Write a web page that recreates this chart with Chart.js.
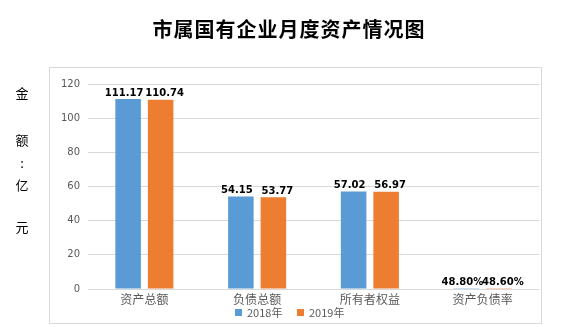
<!DOCTYPE html>
<html>
<head>
<meta charset="utf-8">
<script src="https://cdn.jsdelivr.net/npm/chart.js@4/dist/chart.umd.min.js"></script>
<style>
  html, body { margin: 0; padding: 0; background: #fff; }
  #wrap { width: 578px; height: 327px; }
</style>
</head>
<body>
<div id="wrap"><canvas id="c" width="578" height="327"></canvas></div>
<script>
// Data
const chartTitle = '市属国有企业月度资产情况图';
const yAxisTitle = '金额:亿元';
const categories = ['资产总额', '负债总额', '所有者权益', '资产负债率'];
const seriesNames = ['2018年', '2019年'];
const values2018 = [111.17, 54.15, 57.02, 0.488];
const values2019 = [110.74, 53.77, 56.97, 0.486];
const percentCategories = ['资产负债率'];
const yMin = 0, yMax = 120, yStep = 20;

const colors = ['#5b9bd5', '#ed7d31'];
const cjk = '"Noto Sans CJK SC", "Noto Sans", sans-serif';

function formatValue(v, idx) {
  if (percentCategories.includes(categories[idx])) return (v * 100).toFixed(2) + '%';
  return v.toFixed(2);
}

// Frame, title and vertical axis caption
const decorPlugin = {
  id: 'decor',
  beforeDraw(chart) {
    const ctx = chart.ctx;
    ctx.save();
    ctx.fillStyle = '#fff';
    ctx.fillRect(0, 0, chart.width, chart.height);
    ctx.strokeStyle = '#d9d9d9';
    ctx.lineWidth = 1;
    ctx.strokeRect(49.5, 67.5, 492, 256);

    ctx.fillStyle = '#000';
    ctx.font = 'bold 20px ' + cjk;
    ctx.textAlign = 'center';
    ctx.textBaseline = 'middle';
    if ('letterSpacing' in ctx) ctx.letterSpacing = '1px';
    ctx.fillText(chartTitle, 289, 29);
    if ('letterSpacing' in ctx) ctx.letterSpacing = '0px';

    ctx.font = '13px ' + cjk;
    const ys = [93, 140, 163, 185, 227];
    Array.from(yAxisTitle).forEach((ch, i) => ctx.fillText(ch, 22, ys[i]));
    ctx.restore();
  }
};

// Value labels above bars (nudged apart so neighbours don't collide) and the legend
const labelPlugin = {
  id: 'labels',
  afterDatasetsDraw(chart) {
    const ctx = chart.ctx;
    ctx.save();
    ctx.font = 'bold 10px "DejaVu Sans", sans-serif';
    ctx.fillStyle = '#000';
    ctx.textAlign = 'center';
    ctx.textBaseline = 'bottom';
    const nudge = [-4, 4];
    chart.data.datasets.forEach((ds, di) => {
      const meta = chart.getDatasetMeta(di);
      meta.data.forEach((bar, i) => {
        ctx.fillText(formatValue(ds.data[i], i), bar.x + nudge[di], bar.y - 1);
      });
    });

    ctx.font = '11px ' + cjk;
    ctx.textAlign = 'left';
    ctx.textBaseline = 'middle';
    const lx = [235, 297];
    chart.data.datasets.forEach((ds, di) => {
      ctx.fillStyle = ds.backgroundColor;
      ctx.fillRect(lx[di], 309, 7, 7);
      ctx.fillStyle = '#595959';
      ctx.fillText(ds.label, lx[di] + 12, 312.5);
    });
    ctx.restore();
  }
};

new Chart(document.getElementById('c'), {
  type: 'bar',
  data: {
    labels: categories,
    datasets: [
      { label: seriesNames[0], data: values2018, backgroundColor: colors[0] },
      { label: seriesNames[1], data: values2019, backgroundColor: colors[1] }
    ]
  },
  options: {
    responsive: false,
    animation: false,
    devicePixelRatio: 1,
    categoryPercentage: 0.577,
    barPercentage: 0.785,
    layout: { padding: { left: 0, top: 84, right: 39, bottom: 0 } },
    plugins: {
      legend: { display: false },
      title: { display: false },
      tooltip: { enabled: false }
    },
    scales: {
      x: {
        grid: { display: false, drawTicks: false },
        border: { display: false },
        ticks: {
          color: '#595959',
          font: { family: cjk, size: 12 },
          padding: 3,
          maxRotation: 0,
          autoSkip: false
        },
        afterFit(scale) { scale.height = 38; }
      },
      y: {
        min: yMin,
        max: yMax,
        grid: { color: '#d9d9d9', drawTicks: false },
        border: { display: false },
        ticks: {
          stepSize: yStep,
          color: '#595959',
          font: { family: '"DejaVu Sans", sans-serif', size: 10 },
          padding: 8
        },
        afterFit(scale) { scale.width = 88; }
      }
    }
  },
  plugins: [decorPlugin, labelPlugin]
});
</script>
</body>
</html>
